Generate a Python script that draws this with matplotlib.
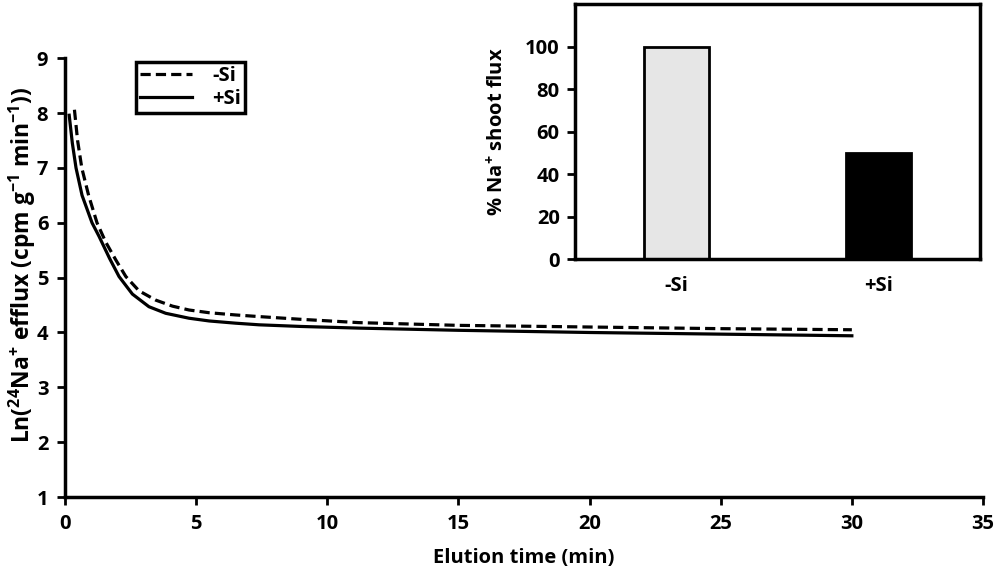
import matplotlib
matplotlib.use("Agg")
import matplotlib.pyplot as plt

FONT = "Open Sans"
plt.rcParams["font.family"] = [FONT, "DejaVu Sans"]
plt.rcParams["font.weight"] = "bold"
plt.rcParams["mathtext.fontset"] = "custom"
plt.rcParams["mathtext.rm"] = FONT + ":bold"
plt.rcParams["mathtext.bf"] = FONT + ":bold"
plt.rcParams["mathtext.default"] = "rm"

# efflux curves
t_minus = [0.36, 0.48, 0.64, 0.9, 1.22, 1.55, 1.94, 2.32, 2.82, 3.46, 4.1, 4.73, 5.5, 6.5, 7.4, 9.0, 11.2, 15, 20, 25, 30]
y_minus = [8.06, 7.5, 7.0, 6.5, 6.0, 5.65, 5.32, 5.02, 4.76, 4.59, 4.48, 4.41, 4.36, 4.32, 4.29, 4.24, 4.18, 4.13, 4.10, 4.07, 4.05]
t_plus = [0.16, 0.28, 0.42, 0.65, 1.03, 1.3, 1.7, 2.06, 2.57, 3.2, 3.84, 4.73, 5.5, 6.5, 7.4, 9.0, 11.2, 15, 20, 25, 30]
y_plus = [7.96, 7.45, 7.0, 6.5, 6.0, 5.75, 5.35, 5.02, 4.70, 4.47, 4.35, 4.26, 4.21, 4.17, 4.14, 4.11, 4.08, 4.04, 4.0, 3.97, 3.94]

# inset bars
groups = ["-Si", "+Si"]
shoot_flux = [100, 50]
bar_colors = ["#e6e6e6", "black"]

x_ticks = [0, 5, 10, 15, 20, 25, 30, 35]
y_ticks = [1, 2, 3, 4, 5, 6, 7, 8, 9]

fs = 14.5

fig = plt.figure(figsize=(10, 5.76), dpi=100)
ax = fig.add_axes([0.065, 0.137, 0.918, 0.762])
ax.plot(t_minus, y_minus, color="black", lw=2.3, ls="--", dashes=(3.2, 1.6), label="-Si")
ax.plot(t_plus, y_plus, color="black", lw=2.3, label="+Si")
ax.set_xlim(0, 35)
ax.set_ylim(1, 9)
ax.set_xticks(x_ticks)
ax.set_yticks(y_ticks)
for s in ["top", "right"]:
    ax.spines[s].set_visible(False)
for s in ["left", "bottom"]:
    ax.spines[s].set_linewidth(2.5)
ax.tick_params(width=2, length=6, labelsize=fs, pad=6)
ax.set_xlabel("Elution time (min)", fontsize=fs, fontweight="bold", labelpad=10)
ax.set_ylabel(r"Ln($^{24}$Na$^{+}$ efflux (cpm g$^{-1}$ min$^{-1}$))", fontsize=16.5, fontweight="bold")
ax.yaxis.set_label_coords(-0.029, 0.53)

leg = ax.legend(loc="upper left", bbox_to_anchor=(0.126, 0.91), bbox_transform=fig.transFigure,
                fancybox=False, framealpha=1, edgecolor="black", fontsize=fs,
                handlelength=2.6, borderpad=0.2, labelspacing=0.15, handletextpad=1.0)
leg.get_frame().set_linewidth(2.5)

# inset
ins = fig.add_axes([0.575, 0.55, 0.405, 0.443])
ins.bar(range(len(groups)), shoot_flux, width=0.32, color=bar_colors, edgecolor="black", linewidth=2)
ins.set_xlim(-0.5, 1.5)
ins.set_ylim(0, 120)
ins.set_yticks([0, 20, 40, 60, 80, 100])
ins.set_xticks(range(len(groups)))
ins.set_xticklabels(groups)
for s in ins.spines.values():
    s.set_linewidth(2.5)
ins.tick_params(axis="y", width=2, length=6, labelsize=fs, pad=5)
ins.tick_params(axis="x", length=0, labelsize=fs, pad=12)
ins.set_ylabel(r"% Na$^{+}$ shoot flux", fontsize=fs, fontweight="bold", labelpad=12)

fig.savefig("out.png", dpi=100)
